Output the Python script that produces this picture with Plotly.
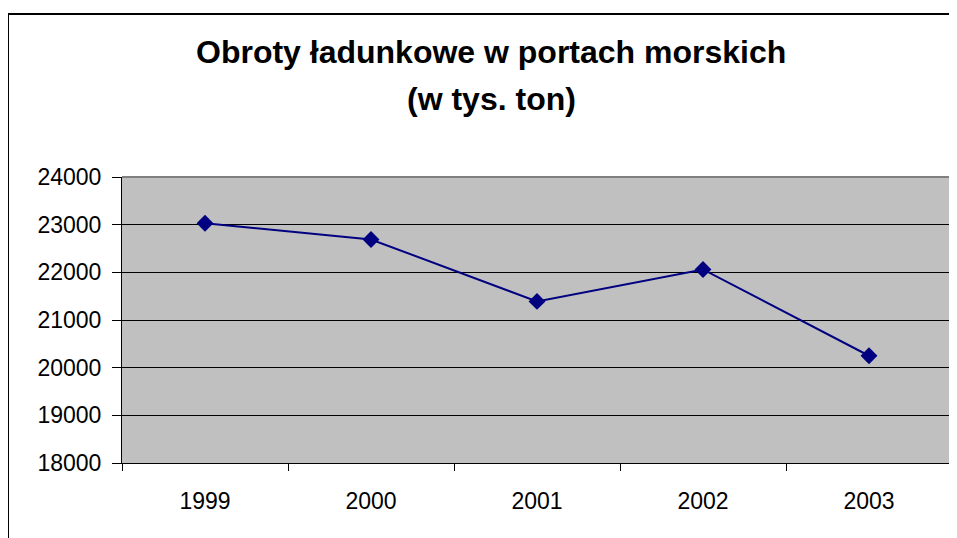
import plotly.graph_objects as go

years = ["1999", "2000", "2001", "2002", "2003"]
values = [23030, 22690, 21390, 22060, 20250]
title_lines = ["Obroty ładunkowe w portach morskich", "(w tys. ton)"]
y_ticks = [18000, 19000, 20000, 21000, 22000, 23000, 24000]

# the page body has an 8px margin, so work in page coords minus 8
OFF = 8
W, H = 957 - OFF, 538 - OFF
L, T = 122 - OFF, 177 - OFF
R = W - (952 - OFF)
B = H - (463 - OFF)
pw, ph = W - L - R, H - T - B

def px_x(px):
    return (px - OFF - L) / pw

def px_y(py):
    return (H - B - (py - OFF)) / ph

fig = go.Figure()
fig.add_trace(go.Scatter(
    x=years, y=values, mode="lines+markers",
    line=dict(color="#000080", width=2),
    marker=dict(symbol="diamond", size=13, color="#000080"),
    showlegend=False,
))

font = "Liberation Sans, Arial, sans-serif"
fig.update_layout(
    width=W, height=H,
    margin=dict(l=L, r=R, t=T, b=B),
    paper_bgcolor="white",
    plot_bgcolor="#C0C0C0",
    font=dict(family=font, size=23, color="black"),
    xaxis=dict(
        type="category", range=[-0.5, len(years) - 0.5],
        tickson="boundaries", ticks="outside", ticklen=7,
        tickcolor="black", showline=True, linecolor="black", linewidth=1,
        showgrid=False, mirror=False, ticklabelstandoff=17,
        tickfont=dict(size=23),
    ),
    yaxis=dict(
        range=[18000, 24000], tickvals=y_ticks, tickformat="d", ticks="outside", ticklen=9,
        tickcolor="black", showline=True, linecolor="black", linewidth=1,
        showgrid=True, gridcolor="black", gridwidth=1, zeroline=False,
        ticklabelstandoff=6, tickfont=dict(size=23),
    ),
    shapes=[
        dict(type="rect", xref="paper", yref="paper",
             x0=px_x(8), x1=px_x(975), y0=px_y(560), y1=px_y(14),
             line=dict(color="black", width=2), fillcolor="rgba(0,0,0,0)", layer="below"),
        dict(type="line", xref="paper", yref="paper", x0=0, x1=1, y0=1, y1=1,
             line=dict(color="#808080", width=2)),
        dict(type="line", xref="paper", yref="paper", x0=1, x1=1, y0=0, y1=1,
             line=dict(color="#808080", width=2)),
    ],
    annotations=[
        dict(text="<b>%s</b>" % title_lines[0], xref="paper", yref="paper",
             x=px_x(491), y=px_y(52), showarrow=False, xanchor="center", yanchor="middle",
             font=dict(size=32, family=font)),
        dict(text="<b>%s</b>" % title_lines[1], xref="paper", yref="paper",
             x=px_x(491), y=px_y(99), showarrow=False, xanchor="center", yanchor="middle",
             font=dict(size=32, family=font)),
    ],
)

fig.write_html("out.html")
